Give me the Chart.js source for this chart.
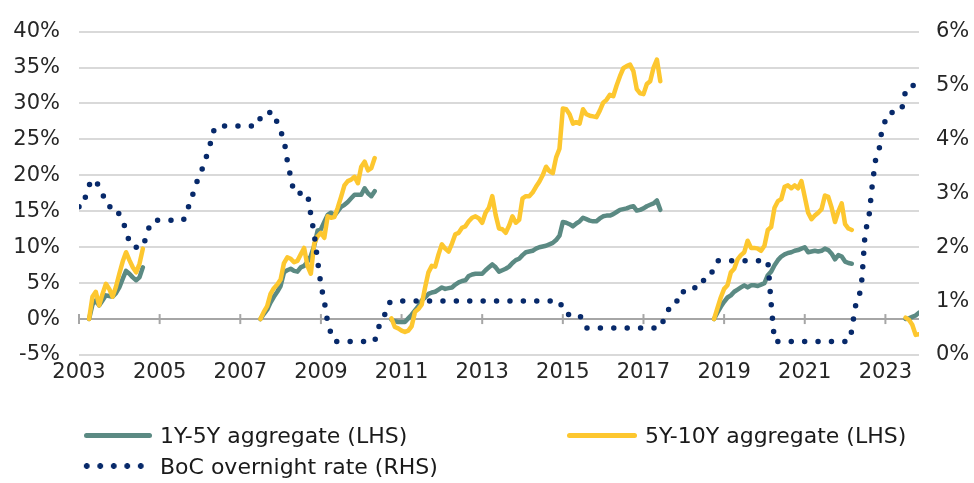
<!DOCTYPE html>
<html>
<head>
<meta charset="utf-8">
<script src="https://cdn.jsdelivr.net/npm/chart.js@4"></script>
<style>
  body { margin: 0; background: #fff; }
  #wrap { position: relative; width: 974px; height: 483px; font-family: "DejaVu Sans", sans-serif; color: #1a1a1a; }
  #chart { position: absolute; left: 0; top: 0; }
  .leg-text { position: absolute; font-size: 22px; line-height: 26px; white-space: nowrap; }
  .leg-line { position: absolute; height: 5px; border-radius: 3px; }
  .leg-dots { position: absolute; height: 6px;
    background: radial-gradient(circle, #07296a 2.6px, rgba(7,41,106,0) 3.2px) 0 0 / 13.5px 6px repeat-x; }
</style>
</head>
<body>
<div id="wrap">
  <canvas id="chart" width="974" height="483"></canvas>
  <div class="leg-line" style="left:84px; top:433px; width:68px; background:#5b8a83;"></div>
  <div class="leg-text" style="left:160px; top:423px;">1Y-5Y aggregate (LHS)</div>
  <div class="leg-line" style="left:567px; top:433px; width:70px; background:#fdc72f;"></div>
  <div class="leg-text" style="left:645px; top:423px;">5Y-10Y aggregate (LHS)</div>
  <div class="leg-dots" style="left:80px; top:463px; width:67px;"></div>
  <div class="leg-text" style="left:160px; top:454px;">BoC overnight rate (RHS)</div>
</div>
<script>
// x axis: years, data monthly
const yearTicks = [2003, 2005, 2007, 2009, 2011, 2013, 2015, 2017, 2019, 2021, 2023];
const leftTicks = [-5, 0, 5, 10, 15, 20, 25, 30, 35, 40];
const rightTicks = [0, 1, 2, 3, 4, 5, 6];

// each easing/hiking cycle starts a new cumulative series
const segmentStarts = ["2003-04", "2007-07", "2010-10", "2018-10", "2023-07"];

// 1Y-5Y aggregate, % (LHS), monthly from segment start
const shortAgg = [
  [0, 2.0, 2.6, 1.9, 2.6, 3.3, 3.2, 3.1, 3.6, 4.4, 5.6, 6.7, 6.3, 5.8, 5.4, 5.8, 7.2],
  [0, 0.7, 1.3, 2.3, 3.1, 3.8, 4.6, 6.5, 6.8, 7.0, 6.7, 6.6, 7.2, 7.4, 8.0, 8.8, 10.2, 12.3,
   12.5, 13.5, 14.5, 14.8, 14.4, 15.0, 15.6, 15.9, 16.3, 16.8, 17.3, 17.3, 17.3, 18.2, 17.5, 17.1, 17.8],
  [-0.1, -0.3, -0.4, -0.4, -0.4, 0.1, 0.6, 1.2, 1.8, 2.6, 3.0, 3.5, 3.7, 3.8, 4.1, 4.4, 4.2, 4.3,
   4.4, 4.8, 5.1, 5.3, 5.4, 6.0, 6.2, 6.3, 6.3, 6.3, 6.8, 7.2, 7.6, 7.2, 6.6, 6.8, 7.0, 7.3,
   7.8, 8.2, 8.4, 8.9, 9.3, 9.4, 9.5, 9.8, 10.0, 10.1, 10.2, 10.4, 10.6, 11.0, 11.6, 13.5, 13.4, 13.2,
   12.9, 13.3, 13.6, 14.1, 13.9, 13.7, 13.6, 13.6, 14.0, 14.3, 14.4, 14.4, 14.6, 14.9, 15.2, 15.3, 15.4, 15.6,
   15.7, 15.1, 15.2, 15.4, 15.7, 15.9, 16.1, 16.5, 15.2],
  [0, 0.9, 1.7, 2.4, 3.0, 3.3, 3.8, 4.1, 4.4, 4.7, 4.4, 4.7, 4.7, 4.6, 4.8, 5.0, 6.1, 6.6,
   7.5, 8.2, 8.7, 9.0, 9.2, 9.3, 9.5, 9.6, 9.8, 10.0, 9.3, 9.4, 9.5, 9.4, 9.5, 9.8, 9.6, 9.1,
   8.3, 8.9, 8.7, 8.0, 7.8, 7.7],
  [0, 0.1, 0.3, 0.5, 0.9]
];

// 5Y-10Y aggregate, % (LHS)
const longAgg = [
  [0, 3.1, 3.8, 1.9, 3.5, 4.9, 4.2, 3.1, 4.5, 6.3, 8.0, 9.3, 8.2, 7.2, 6.5, 7.7, 9.8],
  [0, 1.0, 1.8, 3.5, 4.3, 4.8, 5.5, 7.8, 8.6, 8.4, 7.9, 8.1, 9.0, 9.9, 7.4, 6.3, 10.5, 11.5,
   12.0, 11.3, 14.3, 14.1, 14.2, 15.5, 17.0, 18.6, 19.2, 19.4, 19.8, 18.9, 21.2, 21.9, 20.7, 21.0, 22.4],
  [0.1, -1.1, -1.3, -1.6, -1.8, -1.6, -1.0, 1.0, 1.4, 2.0, 4.4, 6.5, 7.4, 7.3, 9.0, 10.4, 9.8, 9.4,
   10.5, 11.8, 12.0, 12.7, 12.9, 13.6, 14.1, 14.3, 14.0, 13.4, 14.8, 15.5, 17.1, 14.5, 12.6, 12.5, 12.0, 13.0,
   14.3, 13.4, 13.8, 16.8, 17.1, 17.1, 17.6, 18.4, 19.1, 20.0, 21.2, 20.6, 20.3, 22.5, 23.7, 29.3, 29.2, 28.5,
   27.2, 27.4, 27.2, 29.2, 28.5, 28.3, 28.2, 28.1, 29.0, 30.1, 30.5, 31.2, 31.0, 32.5, 33.8, 34.9, 35.2, 35.4,
   34.5, 32.0, 31.4, 31.3, 32.7, 33.1, 35.0, 36.1, 33.1],
  [0, 1.5, 3.0, 4.2, 4.7, 6.5, 7.0, 8.3, 8.9, 9.3, 10.9, 9.9, 9.9, 9.8, 9.5, 10.2, 12.4, 12.8,
   15.5, 16.4, 16.7, 18.4, 18.6, 18.2, 18.6, 18.2, 19.2, 17.0, 14.8, 13.9, 14.4, 14.8, 15.3, 17.2, 17.0, 15.5,
   13.5, 15.0, 16.1, 13.2, 12.6, 12.4],
  [0.2, -0.1, -0.8, -2.2, -2.1]
];

// BoC overnight rate, % (RHS) - monthly values at each turn of the line
const bocDates = [
  "2003-01", "2003-02", "2003-03", "2003-04", "2003-05", "2003-06", "2003-07", "2003-08", "2003-09", "2003-10",
  "2003-12", "2004-01", "2004-02", "2004-03", "2004-04", "2004-05", "2004-08", "2004-09", "2004-10", "2004-11",
  "2005-08", "2005-09", "2005-10", "2005-11", "2005-12", "2006-01", "2006-02", "2006-03", "2006-04", "2006-05",
  "2006-06", "2007-06", "2007-07", "2007-08", "2007-11", "2007-12", "2008-01", "2008-02", "2008-03", "2008-04",
  "2008-05", "2008-09", "2008-10", "2008-11", "2008-12", "2009-01", "2009-02", "2009-03", "2009-04", "2009-05",
  "2010-05", "2010-06", "2010-07", "2010-08", "2010-09", "2010-10", "2014-12", "2015-01", "2015-02", "2015-06",
  "2015-07", "2015-08", "2017-06", "2017-07", "2017-08", "2017-09", "2017-10", "2017-12", "2018-01", "2018-02",
  "2018-06", "2018-07", "2018-08", "2018-09", "2018-10", "2018-11", "2020-02", "2020-03", "2020-04", "2022-02",
  "2022-03", "2022-04", "2022-05", "2022-06", "2022-07", "2022-08", "2022-09", "2022-10", "2022-11", "2022-12",
  "2023-01", "2023-02", "2023-05", "2023-06", "2023-07", "2023-08", "2023-11"
];
const bocRates = [
  2.75, 2.75, 2.95, 3.15, 3.25, 3.25, 3.1, 3.0, 2.8, 2.75,
  2.75, 2.6, 2.5, 2.3, 2.1, 2.0, 2.0, 2.2, 2.4, 2.5,
  2.5, 2.6, 2.85, 3.0, 3.2, 3.35, 3.5, 3.7, 3.9, 4.15,
  4.25, 4.25, 4.4, 4.5, 4.5, 4.3, 4.15, 4.0, 3.6, 3.3,
  3.0, 3.0, 2.6, 2.25, 1.75, 1.3, 1.0, 0.6, 0.4, 0.25,
  0.25, 0.5, 0.6, 0.75, 0.95, 1.0, 1.0, 0.85, 0.75, 0.75,
  0.6, 0.5, 0.5, 0.65, 0.75, 0.95, 1.0, 1.0, 1.2, 1.25,
  1.25, 1.4, 1.5, 1.5, 1.6, 1.75, 1.75, 0.95, 0.25, 0.25,
  0.45, 0.9, 1.0, 1.4, 2.3, 2.5, 3.1, 3.6, 3.75, 4.2,
  4.35, 4.5, 4.5, 4.6, 4.9, 5.0, 5.0
];

function toYear(s) {
  const [y, m] = s.split("-").map(Number);
  return y + (m - 1) / 12;
}

// join segments into one series, with a gap between them
function buildSeries(segs) {
  const pts = [];
  segmentStarts.forEach((start, i) => {
    const t0 = toYear(start);
    segs[i].forEach((v, k) => pts.push({ x: t0 + k / 12, y: v }));
    pts.push({ x: t0 + segs[i].length / 12, y: null });
  });
  return pts;
}

const bocPoints = bocDates.map((d, i) => ({ x: toYear(d), y: bocRates[i] }));

// tick marks crossing the 0% line, like the excel axis
const zeroAxisTicks = {
  id: "zeroAxisTicks",
  beforeDatasetsDraw(chart) {
    const { ctx, scales } = chart;
    const y0 = scales.y.getPixelForValue(0);
    ctx.save();
    ctx.strokeStyle = "#a6a6a6";
    ctx.lineWidth = 2;
    scales.x.ticks.forEach((t) => {
      const px = scales.x.getPixelForValue(t.value);
      ctx.beginPath();
      ctx.moveTo(px, y0 - 5);
      ctx.lineTo(px, y0 + 5);
      ctx.stroke();
    });
    ctx.restore();
  },
};

const tickFont = { family: "DejaVu Sans", size: 21 };

new Chart(document.getElementById("chart"), {
  type: "line",
  data: {
    datasets: [
      {
        label: "1Y-5Y aggregate (LHS)",
        data: buildSeries(shortAgg),
        borderColor: "#5b8a83",
        borderWidth: 4.5,
        yAxisID: "y",
        order: 2,
      },
      {
        label: "5Y-10Y aggregate (LHS)",
        data: buildSeries(longAgg),
        borderColor: "#fdc72f",
        borderWidth: 4.5,
        yAxisID: "y",
        order: 1,
      },
      {
        label: "BoC overnight rate (RHS)",
        data: bocPoints,
        borderColor: "#07296a",
        borderWidth: 5.5,
        borderDash: [0, 13.4],
        borderCapStyle: "round",
        yAxisID: "y1",
        order: 0,
      },
    ],
  },
  options: {
    responsive: false,
    animation: false,
    devicePixelRatio: 1,
    layout: { padding: { left: 0, right: 0, top: 28, bottom: 88 } },
    elements: {
      point: { radius: 0 },
      line: { tension: 0, borderJoinStyle: "round", borderCapStyle: "round" },
    },
    plugins: { legend: { display: false }, tooltip: { enabled: false } },
    scales: {
      x: {
        type: "linear",
        min: 2003,
        max: 2023 + 10 / 12,
        afterBuildTicks: (scale) => {
          scale.ticks = yearTicks.map((v) => ({ value: v }));
        },
        afterFit: (scale) => {
          scale.height = 40;
        },
        grid: { display: false, drawTicks: false },
        border: { display: false },
        ticks: {
          autoSkip: false,
          maxRotation: 0,
          padding: 5,
          color: "#262626",
          font: tickFont,
          callback: (v) => String(v),
        },
      },
      y: {
        position: "left",
        min: -5,
        max: 40,
        afterBuildTicks: (scale) => {
          scale.ticks = leftTicks.map((v) => ({ value: v }));
        },
        afterFit: (scale) => {
          scale.width = 79;
        },
        border: { display: false },
        grid: {
          drawTicks: false,
          lineWidth: 2,
          color: (c) => (c.tick && c.tick.value === 0 ? "#a6a6a6" : "#d9d9d9"),
        },
        ticks: {
          padding: 19,
          color: "#262626",
          font: tickFont,
          callback: (v) => v + "%",
        },
      },
      y1: {
        position: "right",
        min: 0,
        max: 6,
        afterBuildTicks: (scale) => {
          scale.ticks = rightTicks.map((v) => ({ value: v }));
        },
        afterFit: (scale) => {
          scale.width = 55;
        },
        border: { display: false },
        grid: { display: false, drawTicks: false },
        ticks: {
          padding: 17,
          color: "#262626",
          font: tickFont,
          callback: (v) => v + "%",
        },
      },
    },
  },
  plugins: [zeroAxisTicks],
});
</script>
</body>
</html>
